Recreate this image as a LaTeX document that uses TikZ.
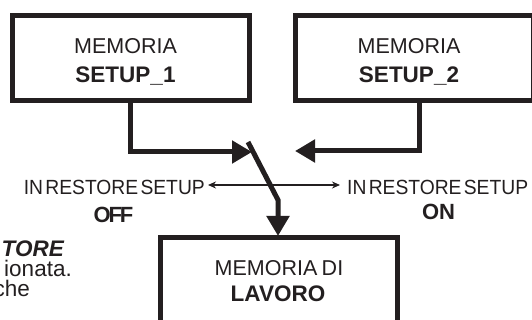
\documentclass[tikz,border=0pt]{standalone}
\usepackage{fontspec}
\setmainfont{Liberation Sans}
\usetikzlibrary{arrows.meta}
\definecolor{ink}{HTML}{231F20}
\newcommand{\tightlab}[1]{\scalebox{0.94}[1]{\fontsize{20.5}{24}\selectfont\spaceskip=0.12em\relax #1}}
\newcommand{\boldlab}[1]{{\fontsize{22}{26}\selectfont\bfseries #1}}
\newcommand{\boxfont}[1]{{\fontsize{21.5}{26}\selectfont\spaceskip=0.2em\relax #1}}
\newcommand{\boxbold}[1]{{\fontsize{22.5}{26}\selectfont\bfseries #1}}
\newcommand{\sidefont}[1]{{\fontsize{22.5}{26}\selectfont #1}}
\begin{document}
\begin{tikzpicture}[x=1pt,y=-1pt,
  boxline/.style={draw=ink,line width=5pt,line join=miter},
  thick connector/.style={draw=ink,line width=5pt,line join=miter,-{Triangle[length=20pt,width=22pt]}},
  thin connector/.style={draw=ink,line width=1.4pt,{Stealth[length=8pt,width=7pt]}-{Stealth[length=8pt,width=7pt]}},
  boxtext/.style={text=ink,inner sep=0pt,anchor=base},
  labtext/.style={text=ink,inner sep=0pt},
  sidetext/.style={text=ink,inner sep=0pt,anchor=base east}]
\useasboundingbox (0,0) rectangle (532,320);
\clip (0,0) rectangle (532,320);
\fill[white] (0,0) rectangle (532,320);
% boxes
\draw[boxline] (12.5,15.5) rectangle (249.5,100.5);
\draw[boxline] (295.5,15.5) rectangle (533,100.5);
\draw[boxline] (160,237.5) rectangle (397,340);
\node[boxtext] (m1a) at (125.5,54) {\boxfont{MEMORIA}};
\node[boxtext] (m1b) at (125.5,83) {\boxbold{SETUP\_1}};
\node[boxtext] (m2a) at (409,54) {\boxfont{MEMORIA}};
\node[boxtext] (m2b) at (409,83) {\boxbold{SETUP\_2}};
\node[boxtext] (m3a) at (279,275) {\boxfont{MEMORIA DI}};
\node[boxtext] (m3b) at (278,301.5) {\boxbold{LAVORO}};
% named anchor points
\coordinate (s1) at (130,100.5);
\coordinate (s1b) at (130,152);
\coordinate (t1) at (252,152);
\coordinate (s2) at (419,100.5);
\coordinate (s2b) at (419,151);
\coordinate (t2) at (295,151);
\coordinate (swtop) at (248,142);
\coordinate (swbend) at (278,200);
\coordinate (t3) at (278,236);
\coordinate (offend) at (208,185);
\coordinate (onend) at (340,185);
% connectors
\draw[thick connector] (s1) -- (s1b) -- (t1);
\draw[thick connector] (s2) -- (s2b) -- (t2);
\draw[thick connector] (swtop) -- (swbend) -- (t3);
\draw[thin connector] (offend) -- (onend);
% labels
\node[labtext,anchor=base east] (offlab) at (205,195) {\tightlab{IN RESTORE SETUP}};
\node[labtext,anchor=base] (off) at (113.5,222.5) {\boldlab{O\kern-0.1em F\kern-0.1em F}};
\node[labtext,anchor=base west] (onlab) at (347,195) {\tightlab{IN RESTORE SETUP}};
\node[labtext,anchor=base] (on) at (438.5,219) {\boldlab{ON}};
% cropped side text
\node[sidetext] (side1) at (64,256.5) {\sidefont{\bfseries\itshape TORE}};
\node[sidetext] (side2) at (72,276.5) {\sidefont{ionata.}};
\node[sidetext] (side3) at (30,296.5) {\sidefont{che}};
\end{tikzpicture}
\end{document}
